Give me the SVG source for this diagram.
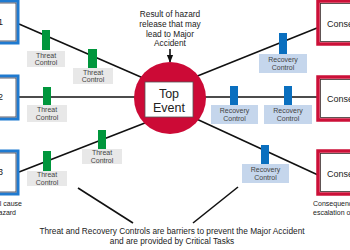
<svg xmlns="http://www.w3.org/2000/svg" width="350" height="250" viewBox="0 0 350 250">
<defs>
<style>
text{font-family:"Liberation Sans",Arial,sans-serif;fill:#222}
.cause{fill:#fff;stroke:#1f7ad0;stroke-width:3}
.causein{fill:none;stroke:#3a3a4a;stroke-width:0.8}
.cons{fill:#fff;stroke:#cc1038;stroke-width:3.5}
.consin{fill:none;stroke:#3a2a2a;stroke-width:0.8}
.con{stroke:#111;stroke-width:1.6;fill:none}
.g{fill:#00963c}
.b{fill:#0a6fbf}
.tl{fill:#e8e8e8}
.rl{fill:#c5d6ec}
.lab{font-size:7px;text-anchor:middle;fill:#444}
.box{font-size:9px}
.note{font-size:8.3px;text-anchor:middle}
</style>
<marker id="ah" viewBox="0 0 10 10" refX="9" refY="5" markerWidth="5" markerHeight="5" orient="auto"><path d="M0,1 L10,5 L0,9 z" fill="#111"/></marker>
</defs>
<rect width="350" height="250" fill="#fff"/>
<g id="connectors">
<line class="con" x1="19" y1="24" x2="150" y2="81"/>
<line class="con" x1="19" y1="97" x2="150" y2="97"/>
<line class="con" x1="19" y1="172" x2="150" y2="121"/>
<line class="con" x1="190" y1="79" x2="317" y2="28"/>
<line class="con" x1="190" y1="97" x2="317" y2="97"/>
<line class="con" x1="190" y1="116" x2="318" y2="175"/>
<line class="con" x1="170" y1="49" x2="170" y2="62" stroke-width="1" marker-end="url(#ah)"/>
<line class="con" x1="78" y1="188" x2="133" y2="223"/>
<line class="con" x1="238" y1="187" x2="193" y2="223"/>
</g>
<g id="cause1"><rect class="cause" x="-40" y="1" width="58" height="42"/><rect class="causein" x="-38" y="3" width="54" height="38"/><text class="box" x="3" y="25" text-anchor="end">Cause 1</text></g>
<g id="cause2"><rect class="cause" x="-40" y="76" width="58" height="43"/><rect class="causein" x="-38" y="78" width="54" height="39"/><text class="box" x="3" y="100" text-anchor="end">Cause 2</text></g>
<g id="cause3"><rect class="cause" x="-40" y="151" width="58" height="43"/><rect class="causein" x="-38" y="153" width="54" height="39"/><text class="box" x="3" y="175" text-anchor="end">Cause 3</text>
<text font-size="7" x="22" y="206" text-anchor="end" fill="#444">Potential cause</text><text font-size="7" x="16" y="215" text-anchor="end" fill="#444">of hazard</text></g>
<g id="cons1"><rect class="cons" x="318" y="1" width="60" height="43"/><rect class="consin" x="320.5" y="3.5" width="56" height="38"/><text class="box" x="327" y="27">Consequence 1</text></g>
<g id="cons2"><rect class="cons" x="318" y="77" width="60" height="43"/><rect class="consin" x="320.5" y="79.5" width="56" height="38"/><text class="box" x="327" y="102">Consequence 2</text></g>
<g id="cons3"><rect class="cons" x="318" y="151" width="60" height="43"/><rect class="consin" x="320.5" y="153.5" width="56" height="38"/><text class="box" x="327" y="177">Consequence 3</text>
<text font-size="7" x="313" y="206" fill="#444">Consequence of</text><text font-size="7" x="313" y="215" fill="#444">escalation of hazard</text></g>
<g id="top-event">
<circle cx="170" cy="98" r="36" fill="#cc0a36"/>
<rect x="145" y="82" width="48" height="35" fill="#fff" stroke="#555" stroke-width="0.8"/>
<text x="169" y="97.5" font-size="12.5" text-anchor="middle">Top</text>
<text x="169" y="111.5" font-size="12.5" text-anchor="middle">Event</text>
</g>
<g id="top-note"><text class="note" x="170" y="17">Result of hazard</text><text class="note" x="170" y="27">release that may</text><text class="note" x="170" y="36.5">lead to Major</text><text class="note" x="170" y="46">Accident</text></g>
<g id="threat1"><rect class="g" x="42" y="30" width="8" height="20"/><rect class="tl" x="27" y="51" width="38" height="16"/><text class="lab" x="46" y="57.5">Threat</text><text class="lab" x="46" y="65">Control</text></g>
<g id="threat2"><rect class="g" x="88" y="49" width="9" height="19"/><rect class="tl" x="73" y="68" width="40" height="16"/><text class="lab" x="93" y="74.5">Threat</text><text class="lab" x="93" y="82">Control</text></g>
<g id="threat3"><rect class="g" x="43" y="87" width="8" height="18"/><rect class="tl" x="27" y="105" width="40" height="17"/><text class="lab" x="47" y="111.5">Threat</text><text class="lab" x="47" y="119.5">Control</text></g>
<g id="threat4"><rect class="g" x="43" y="151" width="8" height="20"/><rect class="tl" x="27" y="171" width="40" height="15"/><text class="lab" x="47" y="177">Threat</text><text class="lab" x="47" y="184.5">Control</text></g>
<g id="threat5"><rect class="g" x="98" y="130" width="8" height="19"/><rect class="tl" x="82" y="149" width="40" height="15"/><text class="lab" x="102" y="155">Threat</text><text class="lab" x="102" y="162.5">Control</text></g>
<g id="recovery1"><rect class="b" x="279" y="33" width="8" height="21"/><rect class="rl" x="259" y="54" width="48" height="19"/><text class="lab" x="283" y="62">Recovery</text><text class="lab" x="283" y="70">Control</text></g>
<g id="recovery2"><rect class="b" x="230" y="86" width="8" height="19"/><rect class="rl" x="211" y="105" width="47" height="19"/><text class="lab" x="234.5" y="113">Recovery</text><text class="lab" x="234.5" y="121">Control</text></g>
<g id="recovery3"><rect class="b" x="284" y="86" width="8" height="19"/><rect class="rl" x="264" y="105" width="48" height="19"/><text class="lab" x="288" y="113">Recovery</text><text class="lab" x="288" y="121">Control</text></g>
<g id="recovery4"><rect class="b" x="261" y="145" width="8" height="19"/><rect class="rl" x="242" y="164" width="47" height="19"/><text class="lab" x="265.5" y="172">Recovery</text><text class="lab" x="265.5" y="180">Control</text></g>
<g id="bottom-note"><text class="note" x="172" y="234" font-size="8.1">Threat and Recovery Controls are barriers to prevent the Major Accident</text><text class="note" x="172" y="244" font-size="8.1">and are provided by Critical Tasks</text></g>
</svg>
